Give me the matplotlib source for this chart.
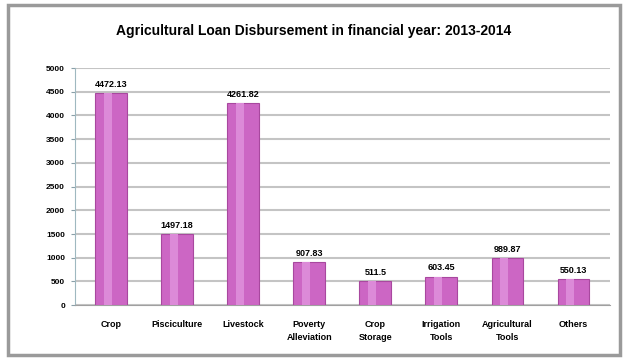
import matplotlib
matplotlib.use("Agg")
import matplotlib.pyplot as plt
from matplotlib.patches import Rectangle

plt.rcParams["font.family"] = ["Liberation Sans", "DejaVu Sans"]

categories = ["Crop", "Pisciculture", "Livestock", "Poverty\nAlleviation", "Crop\nStorage",
              "Irrigation\nTools", "Agricultural\nTools", "Others"]
amounts = [4472.13, 1497.18, 4261.82, 907.83, 511.5, 603.45, 989.87, 550.13]
value_labels = ["4472.13", "1497.18", "4261.82", "907.83", "511.5", "603.45", "989.87", "550.13"]
y_ticks = list(range(0, 5001, 500))

fig = plt.figure(figsize=(6.28, 3.62), dpi=100)
ax = fig.add_axes([0.119, 0.157, 0.852, 0.655])

# outer frame like the pasted chart box
fig.patches.append(Rectangle((0.012, 0.02), 0.976, 0.965, transform=fig.transFigure,
                             fill=False, edgecolor="#9a9a9a", linewidth=2.5))

fig.text(0.5, 0.915, "Agricultural Loan Disbursement in financial year: 2013-2014",
         ha="center", va="center", fontsize=10, fontweight="bold")

x = list(range(len(categories)))
ax.bar(x, amounts, width=0.48, color="#cc66c4", edgecolor="#a8489f", linewidth=0.8, zorder=3)
# lighter strip to mimic the cylinder shading
ax.bar([i - 0.05 for i in x], amounts, width=0.12, color="#dc8ad8", linewidth=0, zorder=4)

for xi, val, lab in zip(x, amounts, value_labels):
    ax.text(xi, val + 90, lab, ha="center", va="bottom", fontsize=6.5, fontweight="bold", zorder=5)

ax.set_xlim(-0.55, len(categories) - 0.45)
ax.set_ylim(0, 5000)
ax.set_yticks(y_ticks)
ax.set_yticklabels([str(t) for t in y_ticks], fontsize=6, fontweight="bold")
ax.set_xticks(x)
ax.set_xticklabels(categories, fontsize=6.5, fontweight="bold", linespacing=1.5)
ax.tick_params(axis="x", length=0, pad=11)
ax.tick_params(axis="y", length=3, color="#8aa0a8", pad=4)

ax.grid(True, axis="y", color="#c4c4c4", linewidth=1.5, zorder=0)
for side in ["top", "right"]:
    ax.spines[side].set_visible(False)
ax.spines["left"].set_color("#9fb8c0")
ax.spines["bottom"].set_color("#a0a0a0")

fig.savefig("out.png", dpi=100, facecolor="white")
